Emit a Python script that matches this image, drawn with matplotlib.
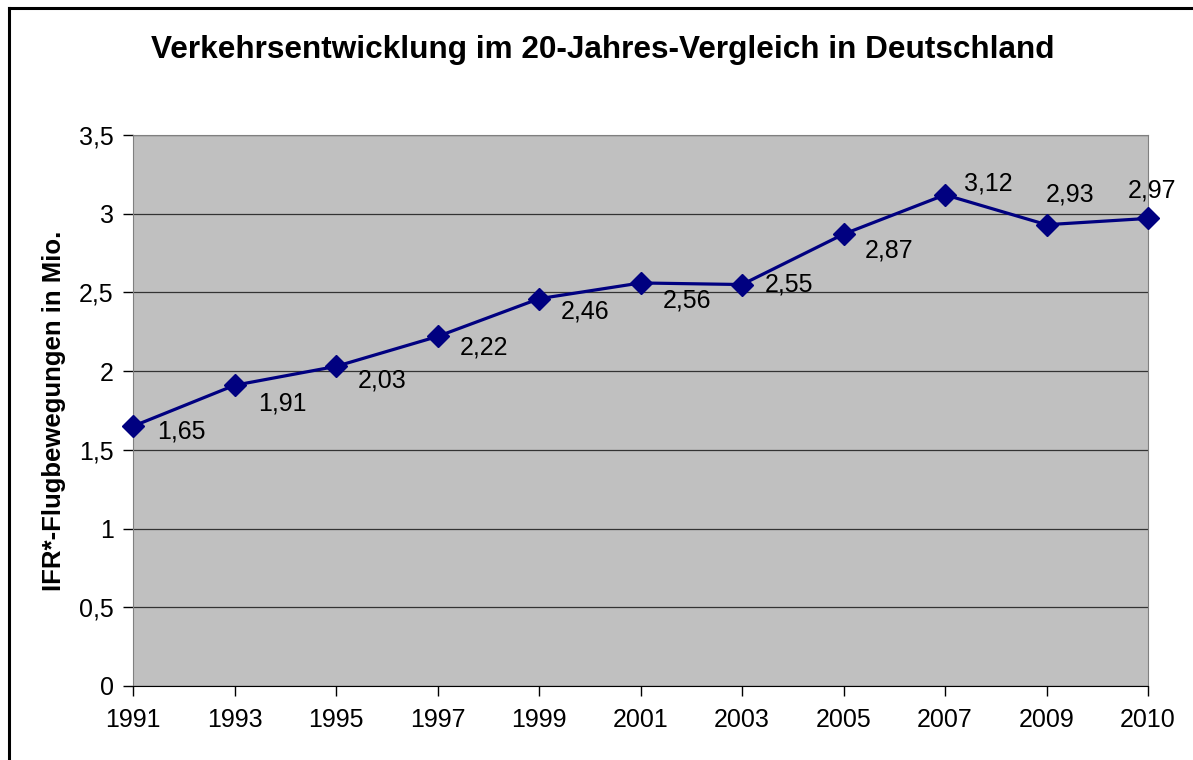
import matplotlib.pyplot as plt
from matplotlib.lines import Line2D

plt.rcParams['font.family'] = ['Liberation Sans', 'DejaVu Sans']

# data
years = ['1991', '1993', '1995', '1997', '1999', '2001', '2003', '2005', '2007', '2009', '2010']
movements = [1.65, 1.91, 2.03, 2.22, 2.46, 2.56, 2.55, 2.87, 3.12, 2.93, 2.97]
y_ticks = [0, 0.5, 1, 1.5, 2, 2.5, 3, 3.5]

# where each data label sits relative to its marker (pixels)
label_offsets = [(24, -5), (24, -18), (22, -14), (22, -11), (22, -13), (22, -18),
                 (23, 0), (21, -16), (19, 11), (-1, 30), (-20, 28)]

fig = plt.figure(figsize=(11.93, 7.60), dpi=100)
ax = fig.add_axes([0.1115, 0.0974, 0.8508, 0.725])

ax.set_facecolor('#c0c0c0')
x = list(range(len(years)))
ax.plot(x, movements, color='#000080', lw=2.3, marker='D', markersize=11,
        markeredgecolor='#000080', zorder=3, clip_on=False)

for xi, v, (dx, dy) in zip(x, movements, label_offsets):
    ax.annotate(f'{v:.2f}'.replace('.', ','), (xi, v), xytext=(dx, dy),
                textcoords='offset pixels', ha='left', va='center', fontsize=18)

ax.set_xlim(0, len(years) - 1)
ax.set_ylim(0, 3.5)
ax.set_xticks(x)
ax.set_xticklabels(years, fontsize=18)
ax.set_yticks(y_ticks)
ax.set_yticklabels([f'{t:g}'.replace('.', ',') for t in y_ticks], fontsize=18)
ax.tick_params(direction='out', length=7, width=1, pad=7)
ax.tick_params(axis='x', pad=9)

ax.grid(axis='y', color='#333333', lw=0.9)
ax.set_axisbelow(True)
for side in ['left', 'right', 'top']:
    ax.spines[side].set_color('#808080')
ax.spines['bottom'].set_color('black')

ax.set_ylabel('IFR*-Flugbewegungen in Mio.', fontsize=18.5, fontweight='bold', labelpad=9)
fig.text(0.505, 0.934, 'Verkehrsentwicklung im 20-Jahres-Vergleich in Deutschland',
         ha='center', va='center', fontsize=22.7, fontweight='bold')

# chart frame (only top and left edge visible in the crop)
fig.add_artist(Line2D([9 / 1193, 1], [1 - 8 / 760, 1 - 8 / 760], color='black', lw=2.2))
fig.add_artist(Line2D([9 / 1193, 9 / 1193], [0, 1 - 8 / 760], color='black', lw=2.2))

fig.savefig('out.png', dpi=100)
